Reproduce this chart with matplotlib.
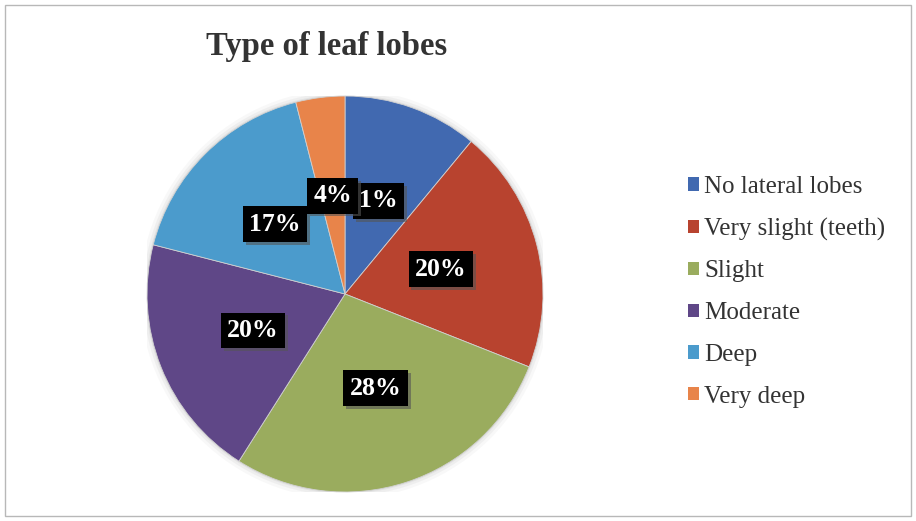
import matplotlib
matplotlib.use('Agg')
import matplotlib.pyplot as plt
import matplotlib.patches as mpatches
import matplotlib.patheffects as pe

# data
categories = ['No lateral lobes', 'Very slight (teeth)', 'Slight',
              'Moderate', 'Deep', 'Very deep']
shares = [11, 20, 28, 20, 17, 4]
pct_labels = ['1%', '20%', '28%', '20%', '17%', '4%']
colors = ['#4169b0', '#b8432f', '#9aac5e', '#5f4787', '#4b9bcc', '#e8844a']

plt.rcParams['font.family'] = ['Liberation Serif', 'DejaVu Serif']

fig = plt.figure(figsize=(9.16, 5.21), dpi=100)
fig.patch.set_facecolor('white')

# thin outer frame of the chart area
fig.patches.append(mpatches.Rectangle((0.006, 0.01), 0.988, 0.98,
                                      transform=fig.transFigure, fill=False,
                                      edgecolor='#b8b8b8', linewidth=1.0))

ax = fig.add_axes([0.1605, 0.0557, 0.4323, 0.760])

# soft glow around the pie
for r, a in [(1.035, 0.05), (1.02, 0.07), (1.008, 0.09)]:
    ax.add_patch(mpatches.Circle((0, 0), r, color='#777777', alpha=a, lw=0))

lbl = iter(pct_labels)
wedges, texts, autotexts = ax.pie(
    shares, colors=colors, startangle=90, counterclock=False,
    autopct=lambda p: next(lbl), pctdistance=0.5,
    wedgeprops=dict(linewidth=0.6, edgecolor='#d0d0d0'),
    textprops=dict(color='white', fontsize=18.5, fontweight='bold'))

for t in autotexts:
    t.set_bbox(dict(boxstyle='square,pad=0.25', facecolor='black',
                    edgecolor='none',
                    path_effects=[pe.withSimplePatchShadow(offset=(2, -2),
                                                           shadow_rgbFace='#555555',
                                                           alpha=0.6),
                                  pe.Normal()]))

ax.set_xlim(-1, 1)
ax.set_ylim(-1, 1)
ax.set_aspect('equal')
ax.axis('off')

fig.text(0.356, 0.91, 'Type of leaf lobes', ha='center', va='center',
         fontsize=23.5, fontweight='bold', color='#333333')

leg = fig.legend(wedges, categories, loc='center left',
                 bbox_to_anchor=(0.751, 0.44), frameon=False,
                 fontsize=18, handlelength=0.45, handleheight=0.45,
                 handletextpad=0.2, labelspacing=0.79, labelcolor='#333333',
                 borderpad=0, borderaxespad=0)
for h in leg.legend_handles:
    h.set_edgecolor('none')

fig.savefig('out.png', dpi=100)
